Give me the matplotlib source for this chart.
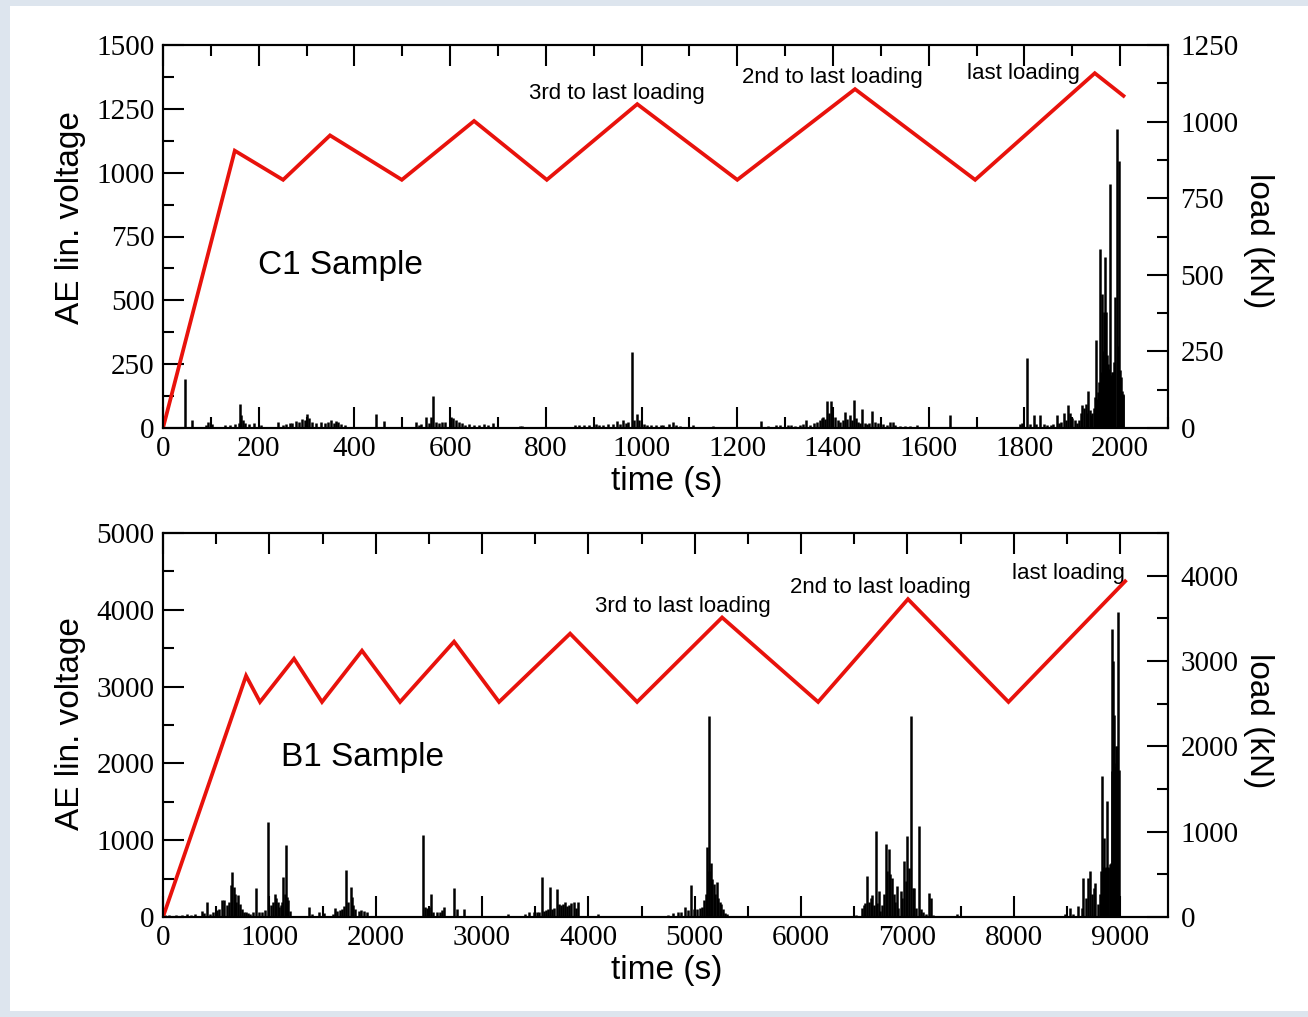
import numpy as np
import matplotlib.pyplot as plt
from matplotlib.patches import Rectangle
from matplotlib.ticker import MultipleLocator

plt.rcParams['font.family'] = ['Liberation Serif', 'DejaVu Serif']

# load cycles (right axis, kN)
c1_time = [0, 150, 251, 349, 499, 650, 802, 991, 1200, 1446, 1697, 1947, 2007]
c1_load = [0, 905, 810, 955, 810, 1002, 810, 1057, 810, 1106, 810, 1158, 1084]
b1_time = [0, 781, 912, 1232, 1495, 1871, 2229, 2737, 3160, 3828, 4458, 5257, 6160, 7005, 7950, 9047]
b1_load = [0, 2827, 2520, 3027, 2520, 3121, 2520, 3227, 2520, 3321, 2520, 3510, 2520, 3725, 2520, 3934]

# AE spikes (time s, lin. voltage)
c1_ae = [(46, 190), (60, 30), (90, 12), (95, 25), (102, 15), (130, 10), (140, 12), (150, 15),
         (158, 20), (160, 94), (163, 52), (167, 30), (172, 20), (180, 15), (190, 18), (205, 12),
         (241, 22), (250, 10), (258, 15), (265, 18), (270, 20), (278, 28), (285, 22), (290, 35),
         (296, 30), (301, 55), (305, 38), (312, 25), (320, 20), (330, 22), (338, 18), (345, 25),
         (352, 30), (358, 20), (362, 28), (366, 25), (372, 15), (380, 12), (445, 55), (462, 29),
         (529, 22), (535, 10), (540, 15), (549, 42), (556, 20), (560, 42), (564, 127), (570, 25),
         (576, 18), (582, 22), (590, 25), (602, 42), (607, 38), (612, 30), (618, 25), (625, 20),
         (632, 12), (640, 15), (650, 12), (660, 10), (670, 14), (680, 12), (690, 18), (746, 9),
         (750, 8), (860, 10), (870, 12), (880, 10), (890, 12), (905, 15), (912, 10), (920, 12),
         (930, 14), (940, 15), (948, 29), (955, 15), (962, 33), (967, 20), (972, 25), (979, 297),
         (985, 30), (990, 55), (995, 30), (1005, 15), (1012, 12), (1020, 10), (1030, 12),
         (1040, 10), (1045, 12), (1058, 15), (1065, 22), (1072, 12), (1080, 8), (1107, 10),
         (1149, 8), (1250, 29), (1265, 8), (1280, 10), (1290, 12), (1305, 12), (1312, 10),
         (1320, 8), (1330, 10), (1338, 15), (1344, 33), (1352, 12), (1360, 20), (1366, 22),
         (1372, 30), (1376, 38), (1380, 42), (1384, 35), (1388, 107), (1391, 60), (1395, 107),
         (1398, 70), (1405, 42), (1410, 30), (1415, 25), (1420, 30), (1425, 63), (1430, 35),
         (1435, 50), (1440, 30), (1444, 111), (1448, 40), (1452, 25), (1456, 20), (1461, 73),
         (1466, 20), (1470, 15), (1475, 18), (1482, 65), (1488, 25), (1494, 20), (1505, 15),
         (1512, 10), (1520, 23), (1525, 23), (1530, 10), (1540, 8), (1550, 6), (1560, 8),
         (1575, 10), (1645, 52), (1750, 4), (1790, 15), (1795, 20), (1805, 274), (1812, 15),
         (1819, 52), (1825, 15), (1833, 52), (1840, 15), (1848, 10), (1855, 12), (1860, 15),
         (1868, 52), (1872, 20), (1877, 25), (1882, 59), (1887, 30), (1892, 89), (1896, 60),
         (1900, 40), (1905, 30), (1910, 20), (1914, 30), (1918, 60), (1921, 91), (1925, 80),
         (1928, 95), (1931, 60), (1933, 144), (1936, 70), (1939, 50), (1942, 60), (1945, 80),
         (1948, 120), (1950, 344), (1952, 115), (1954, 140), (1956, 180), (1958, 703), (1960, 220),
         (1962, 526), (1964, 300), (1966, 455), (1968, 670), (1970, 455), (1972, 285), (1974, 250),
         (1976, 230), (1979, 956), (1981, 207), (1983, 220), (1985, 220), (1987, 260), (1990, 513),
         (1993, 1170), (1995, 320), (1997, 1045), (1999, 226), (2001, 200), (2003, 144),
         (2005, 135), (2007, 128)]

b1_ae = [(20, 30), (60, 20), (120, 30), (180, 25), (230, 40), (260, 30), (300, 40), (364, 78),
         (390, 50), (411, 200), (440, 40), (470, 60), (510, 90), (530, 100), (552, 217), (577, 217),
         (600, 150), (620, 200), (640, 412), (650, 590), (665, 390), (680, 300), (690, 200),
         (709, 286), (720, 165), (740, 100), (760, 65), (780, 60), (800, 50), (820, 40), (850, 60),
         (878, 373), (900, 70), (930, 60), (960, 90), (985, 1235), (1015, 150), (1030, 200),
         (1053, 303), (1065, 243), (1080, 200), (1095, 130), (1110, 150), (1120, 200), (1132, 520),
         (1145, 300), (1157, 932), (1168, 260), (1180, 217), (1195, 80), (1376, 130), (1400, 40),
         (1470, 60), (1510, 50), (1600, 40), (1618, 113), (1640, 80), (1660, 90), (1680, 100),
         (1700, 140), (1721, 607), (1740, 200), (1765, 390), (1777, 260), (1790, 150), (1810, 100),
         (1840, 80), (1860, 90), (1890, 80), (1920, 70), (2442, 1062), (2460, 130), (2480, 120),
         (2500, 130), (2517, 303), (2540, 60), (2580, 60), (2600, 70), (2620, 90), (2640, 130),
         (2737, 373), (2760, 100), (2831, 100), (3248, 39), (3404, 39), (3440, 60), (3490, 70),
         (3520, 60), (3540, 60), (3561, 520), (3580, 80), (3600, 90), (3620, 100), (3640, 390),
         (3660, 110), (3680, 120), (3702, 368), (3720, 173), (3740, 150), (3760, 170), (3780, 190),
         (3800, 140), (3820, 160), (3840, 180), (3860, 190), (3880, 120), (3906, 195), (4094, 39),
         (4749, 26), (4800, 50), (4840, 60), (4870, 60), (4909, 130), (4940, 90), (4966, 412),
         (4990, 100), (5020, 110), (5050, 120), (5070, 130), (5090, 217), (5105, 300), (5119, 910),
         (5130, 600), (5138, 2620), (5150, 700), (5165, 500), (5180, 433), (5190, 300), (5207, 455),
         (5220, 250), (5235, 200), (5250, 173), (5265, 100), (5280, 56), (5300, 40), (6520, 26),
         (6570, 120), (6590, 150), (6600, 187), (6624, 537), (6640, 200), (6660, 250), (6670, 286),
         (6685, 150), (6702, 1118), (6715, 178), (6730, 338), (6745, 80), (6760, 150), (6780, 300),
         (6797, 945), (6810, 598), (6828, 884), (6840, 555), (6855, 511), (6870, 295), (6885, 200),
         (6900, 403), (6915, 121), (6935, 338), (6950, 250), (6969, 728), (6985, 468), (7000, 1053),
         (7015, 641), (7032, 2613), (7048, 381), (7065, 381), (7085, 121), (7110, 1183), (7125, 100),
         (7150, 60), (7170, 40), (7204, 316), (7220, 251), (7240, 30), (7470, 35), (8480, 35),
         (8527, 121), (8560, 35), (8600, 143), (8640, 121), (8655, 511), (8680, 250), (8700, 511),
         (8718, 598), (8735, 295), (8750, 381), (8768, 447), (8790, 165), (8810, 300), (8820, 600),
         (8828, 1833), (8836, 650), (8845, 1031), (8852, 640), (8860, 641), (8868, 650), (8875, 1508),
         (8882, 650), (8890, 641), (8900, 685), (8910, 700), (8919, 3748), (8925, 1900), (8930, 3328),
         (8938, 1950), (8945, 2635), (8951, 1950), (8957, 2223), (8963, 2000), (8969, 2223),
         (8975, 2000), (8981, 3970), (8990, 1920)]

c1_notes = ["3rd to last loading", "2nd to last loading", "last loading"]
c1_note_x = [949, 1398, 1797]
c1_note_y = [1312, 1371, 1390]
b1_notes = ["3rd to last loading", "2nd to last loading", "last loading"]
b1_note_x = [4890, 6743, 8511]
b1_note_y = [4049, 4284, 4479]

RED = '#e8120c'
SANS = ['Liberation Sans', 'DejaVu Sans']

fig = plt.figure(figsize=(13.08, 10.17), dpi=100)
fig.patch.set_facecolor('#dde5ee')
fig.patches.append(Rectangle((10 / 1308, 6 / 1017), 1, 1005 / 1017, transform=fig.transFigure,
                             facecolor='white', edgecolor='none', zorder=-10))


def panel(rect, ae, t, load, xmax, xmaj, ymax, ymaj, rmax, rmaj, rticks,
          sample, sample_xy, notes, nx, ny, ylab_y, xlab_y, rlab_y):
    ax = fig.add_axes(rect)
    ax.patch.set_alpha(0)
    tt, vv = np.array(ae).T
    ax.vlines(tt, 0, vv, color='black', lw=1.8)
    ax.set_xticks(np.arange(0, xmax, xmaj))
    ax.xaxis.set_minor_locator(MultipleLocator(xmaj / 2))
    ax.yaxis.set_major_locator(MultipleLocator(ymaj))
    ax.yaxis.set_minor_locator(MultipleLocator(ymaj / 2))
    ax.set_xlim(0, xmax)
    ax.set_ylim(0, ymax)
    ax.tick_params(which='both', direction='in', width=1.5, top=True, right=False,
                   labelsize=21)
    ax.tick_params(which='major', length=15, pad=6)
    ax.tick_params(which='minor', length=8)
    for s in ax.spines.values():
        s.set_linewidth(1.5)
    ax.set_xlabel('time (s)', fontsize=24, family=SANS)
    ax.xaxis.set_label_coords(0.5015, xlab_y)
    ax.set_ylabel('AE lin. voltage', fontsize=24, family=SANS)
    ax.yaxis.set_label_coords(-0.077, ylab_y)
    ax.text(sample_xy[0], sample_xy[1], sample, fontsize=24, family=SANS,
            ha='center', va='center')
    for s, x, y in zip(notes, nx, ny):
        ax.text(x, y, s, fontsize=16, family=SANS, ha='center', va='center')

    ax2 = ax.twinx()
    ax2.plot(t, load, color=RED, lw=2.7, solid_joinstyle='miter')
    ax2.set_yticks(rticks)
    ax2.yaxis.set_minor_locator(MultipleLocator(rmaj / 2))
    ax2.set_ylim(0, rmax)
    ax2.tick_params(which='both', direction='in', width=1.5, labelsize=21, pad=9)
    ax2.tick_params(which='major', length=15)
    ax2.tick_params(which='minor', length=8)
    ax2.set_ylabel('load (kN)', fontsize=24, family=SANS, rotation=270, va='center')
    ax2.yaxis.set_label_coords(1.09, rlab_y)
    for s in ax2.spines.values():
        s.set_linewidth(1.5)
    return ax, ax2


panel([163 / 1308, 589 / 1017, 1005 / 1308, 383 / 1017], c1_ae, c1_time, c1_load,
      2100, 200, 1500, 250, 1250, 250, [0, 250, 500, 750, 1000, 1250],
      'C1 Sample', (370, 638), c1_notes, c1_note_x, c1_note_y, 0.55, -0.1, 0.49)

panel([163 / 1308, 100 / 1017, 1005 / 1308, 384 / 1017], b1_ae, b1_time, b1_load,
      9450, 1000, 5000, 1000, 4500, 1000, [0, 1000, 2000, 3000, 4000],
      'B1 Sample', (1872, 2083), b1_notes, b1_note_x, b1_note_y, 0.505, -0.1, 0.51)

fig.savefig('out.png', dpi=100, facecolor=fig.get_facecolor())
